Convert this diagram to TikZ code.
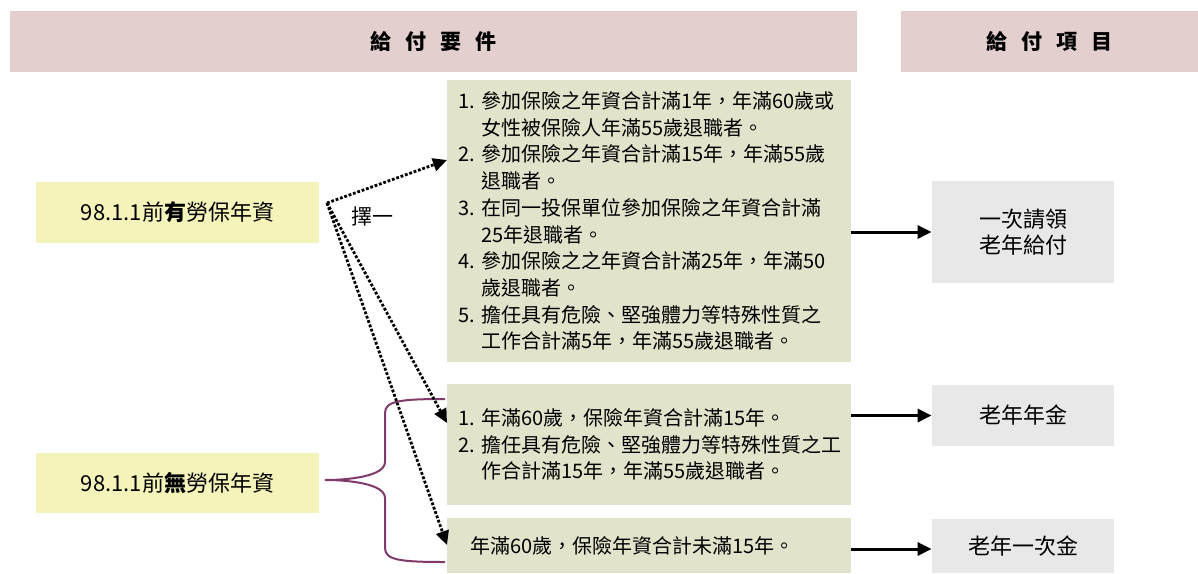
\documentclass[tikz,border=0pt]{standalone}
\usepackage{fontspec}
\setmainfont{Noto Sans CJK TC}
\usetikzlibrary{arrows.meta}
\definecolor{hdrpink}{RGB}{227,208,206}
\definecolor{condgreen}{RGB}{226,227,203}
\definecolor{yrsyellow}{RGB}{243,243,186}
\definecolor{paygray}{RGB}{232,232,232}
\definecolor{bracepurple}{RGB}{128,58,108}
\newcommand{\hgap}{\hspace{7pt}}
\newcommand{\ind}{\phantom{1.~}}
\tikzset{
  hdr/.style={fill=hdrpink, minimum height=30.5pt, font=\fontsize{10.5}{12}\selectfont\bfseries},
  yrs/.style={fill=yrsyellow, minimum width=141.5pt, font=\fontsize{11}{13}\selectfont},
  cond/.style={fill=condgreen, inner xsep=5.5pt, text width=191pt, align=left, font=\fontsize{10}{13.35}\selectfont},
  pay/.style={fill=paygray, minimum width=91pt, align=center, font=\fontsize{11}{13}\selectfont},
  pick/.style={line width=1.4pt, dash pattern=on 1.4pt off 0.9pt, -{Triangle[length=7pt,width=6.5pt]}},
  give/.style={line width=1.5pt, -{Triangle[length=7pt,width=6.5pt]}},
}
\begin{document}
\begin{tikzpicture}[x=0.5pt, y=-0.5pt]
  \useasboundingbox (0,0) rectangle (1198,573);
  % headers
  \node[hdr, minimum width=423.5pt] (hdrreq) at (433.5,41.5) {給\hgap 付\hgap 要\hgap 件};
  \node[hdr, minimum width=148.5pt] (hdritem) at (1049.5,41.5) {給\hgap 付\hgap 項\hgap 目};
  % seniority before 98.1.1
  \node[yrs, minimum height=30.5pt] (withyrs) at (177.5,212.5) {98.1.1前{\bfseries 有}勞保年資};
  \node[yrs, minimum height=30pt] (noyrs) at (177.5,483) {98.1.1前{\bfseries 無}勞保年資};
  % conditions
  \node[cond, minimum height=141pt] (condlump) at (649,221) {1.~參加保險之年資合計滿1年，年滿60歲或\\
    \ind 女性被保險人年滿55歲退職者。\\
    2.~參加保險之年資合計滿15年，年滿55歲\\
    \ind 退職者。\\
    3.~在同一投保單位參加保險之年資合計滿\\
    \ind 25年退職者。\\
    4.~參加保險之之年資合計滿25年，年滿50\\
    \ind 歲退職者。\\
    5.~擔任具有危險、堅強體力等特殊性質之\\
    \ind 工作合計滿5年，年滿55歲退職者。};
  \node[cond, minimum height=60.5pt] (condpension) at (649,444.5) {1.~年滿60歲，保險年資合計滿15年。\\
    2.~擔任具有危險、堅強體力等特殊性質之工\\
    \ind 作合計滿15年，年滿55歲退職者。\\[4pt]};
  \node[cond, minimum height=27.5pt, inner xsep=11.5pt, text width=179pt] (condonce) at (649,545.5) {年滿60歲，保險年資合計未滿15年。};
  % benefits
  \node[pay, minimum height=51pt] (paylump) at (1023,232) {一次請領\\老年給付};
  \node[pay, minimum height=30.5pt] (paypension) at (1023,415.5) {老年年金};
  \node[pay, minimum height=27pt] (payonce) at (1023,546) {老年一次金};
  % brace
  \draw[bracepurple, line width=1pt] (445,399) .. controls (400,399) and (385,401) .. (385,413)
    -- (385,462) .. controls (385,476) and (350,480) .. (325,480)
    .. controls (350,480) and (385,484) .. (385,498)
    -- (385,548) .. controls (385,560) and (400,562) .. (445,562);
  % choose one
  \coordinate (fork) at (327,203);
  \coordinate (tolump) at (447,160);
  \coordinate (topension) at (447,423);
  \coordinate (toonce) at (447,545);
  \draw[pick] (fork) -- (tolump);
  \draw[pick] (fork) -- (topension);
  \draw[pick] (fork) -- (toonce);
  \node[font=\fontsize{10.5}{12}\selectfont] (choose) at (372,217) {擇一};
  % to benefits
  \draw[give] (paylump.west -| condlump.east) -- (paylump.west);
  \draw[give] (paypension.west -| condpension.east) -- (paypension.west);
  \draw[give] ([yshift=-1.5pt]payonce.west -| condonce.east) -- ([yshift=-1.5pt]payonce.west);
\end{tikzpicture}
\end{document}
